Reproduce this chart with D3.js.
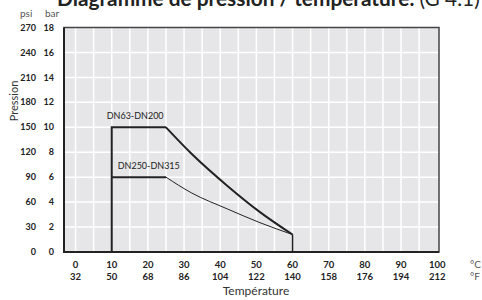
<!DOCTYPE html>
<html>
<head>
<meta charset="utf-8">
<script src="https://cdn.jsdelivr.net/npm/d3@7"></script>
<style>
  body{margin:0;background:#fff}
  svg{display:block}
  text{font-family:Lato,'Open Sans',sans-serif}
</style>
</head>
<body>
<div id="chart"></div>
<script>
// tick labels
var tempC = [0,10,20,30,40,50,60,70,80,90,100]
var tempF = [32,50,68,86,104,122,140,158,176,194,212]
var barTicks = [0,2,4,6,8,10,12,14,16,18]
var psiTicks = [0,30,60,90,120,150,180,210,240,270]

// DN63-DN200 curve (temperature C, pressure bar)
var upperT = [10,10,25,32,42,51,60,60]
var upperP = [0,10,10,7.9,5.3,3.2,1.4,0]
// DN250-DN315 curve
var lowerT = [10,25,32,42,51,60]
var lowerP = [6,6,4.75,3.45,2.35,1.4]

var wid = 482, hgt = 300
var vis = d3.select('#chart').append('svg:svg')
  .attr('width',wid).attr('height',hgt)

var x = d3.scaleLinear().domain([-3.2,100.5]).range([64,439])
var y = d3.scaleLinear().domain([0,18]).range([252,27.5])
var numFont = 'Liberation Sans, Arial, sans-serif'

//title, cut off at the top like the scan
var title = vis.append('text')
  .attr('x',57).attr('y',6)
  .style('font-size','20px').style('fill','#222')
title.append('tspan').style('font-weight','bold')
  .text('Diagramme de pression / température. ')
title.append('tspan').style('font-weight','normal')
  .text('(G 4.1)')
//squeeze it into 57..480
var tw = title.node().getComputedTextLength()
title.style('font-size',(20*423/tw)+'px')

//units over the y labels
vis.append('text').attr('x',20).attr('y',17)
  .style('font-size','10px').style('fill','#555').text('psi')
vis.append('text').attr('x',45).attr('y',17)
  .style('font-size','10px').style('fill','#555').text('bar')

//plot background
vis.append('rect')
  .attr('x',x.range()[0]).attr('y',y.range()[1])
  .attr('width',x.range()[1]-x.range()[0])
  .attr('height',y.range()[0]-y.range()[1])
  .style('fill','#e6e6e8')

//grid, every 5 degrees and every 2 bar
var grid = vis.append('g').attr('id','grid')
grid.selectAll('line.v').data(d3.range(0,100,5)).enter()
  .append('line').attr('class','v')
  .attr('x1',function(d){return x(d)}).attr('x2',function(d){return x(d)})
  .attr('y1',y(18)).attr('y2',y(0))
  .style('stroke','#fff').style('stroke-width',1.5)
grid.selectAll('line.h').data(barTicks.slice(1,-1)).enter()
  .append('line').attr('class','h')
  .attr('y1',function(d){return y(d)}).attr('y2',function(d){return y(d)})
  .attr('x1',x.range()[0]).attr('x2',x.range()[1])
  .style('stroke','#fff').style('stroke-width',1.5)

//frame
vis.append('rect')
  .attr('x',x.range()[0]).attr('y',y.range()[1])
  .attr('width',x.range()[1]-x.range()[0])
  .attr('height',y.range()[0]-y.range()[1])
  .style('fill','none').style('stroke','#444').style('stroke-width',1.5)
vis.append('path')
  .attr('d','M'+x.range()[0]+' '+y.range()[1]+'V'+y.range()[0]+'H'+x.range()[1])
  .style('fill','none').style('stroke','#222').style('stroke-width',2)

//y labels: psi and bar
var yl = vis.append('g').attr('id','y_ticks')
  .style('font-family',numFont)
  .style('font-size','9px').style('font-weight','bold').style('fill','#222')
yl.selectAll('text.psi').data(psiTicks).enter()
  .append('text').attr('class','psi')
  .attr('x',36).attr('y',function(d,i){return y(barTicks[i])})
  .attr('dy','.35em').attr('text-anchor','end')
  .text(function(d){return d})
yl.selectAll('text.bar').data(barTicks).enter()
  .append('text').attr('class','bar')
  .attr('x',54).attr('y',function(d){return y(d)})
  .attr('dy','.35em').attr('text-anchor','end')
  .text(function(d){return d})

vis.append('text')
  .attr('transform','translate(18,101) rotate(-90)')
  .attr('text-anchor','middle')
  .style('font-size','11px').style('fill','#333')
  .text('Pression')

//x labels: celsius and fahrenheit
var xl = vis.append('g').attr('id','x_ticks')
  .style('font-family',numFont)
  .style('font-size','9.5px').style('font-weight','bold').style('fill','#222')
  .attr('text-anchor','middle')
xl.selectAll('text.c').data(tempC).enter()
  .append('text').attr('class','c')
  .attr('x',function(d){return x(d)}).attr('y',268)
  .text(function(d){return d})
xl.selectAll('text.f').data(tempF).enter()
  .append('text').attr('class','f')
  .attr('x',function(d,i){return x(tempC[i])}).attr('y',280)
  .text(function(d){return d})
vis.append('text').attr('x',470).attr('y',268)
  .style('font-size','10px').style('fill','#555').text('°C')
vis.append('text').attr('x',470).attr('y',280)
  .style('font-size','10px').style('fill','#555').text('°F')

vis.append('text')
  .attr('x',256).attr('y',295).attr('text-anchor','middle')
  .style('font-size','12px').style('fill','#333')
  .text('Température')

//curves
var up = upperT.map(function(t,i){return [t,upperP[i]]})
var lo = lowerT.map(function(t,i){return [t,lowerP[i]]})
var straight = d3.line().x(function(d){return x(d[0])}).y(function(d){return y(d[1])})
var smooth = d3.line().x(function(d){return x(d[0])}).y(function(d){return y(d[1])})
  .curve(d3.curveMonotoneX)

var curves = vis.append('g').attr('id','curves')
  .style('fill','none').style('stroke','#222')
curves.append('path').attr('d',straight(up.slice(0,3)))
  .style('stroke-width',2)
curves.append('path').attr('d',smooth(up.slice(2,7)))
  .style('stroke-width',2)
curves.append('path').attr('d',straight(up.slice(6)))
  .style('stroke-width',1.5)
curves.append('path').attr('d',straight(lo.slice(0,2)))
  .style('stroke-width',2)
curves.append('path').attr('d',smooth(lo.slice(1)))
  .style('stroke-width',1)

var lab = vis.append('g').attr('id','curve_labels')
  .style('font-family',numFont)
  .style('font-size','9px').style('fill','#222')
lab.append('text').attr('x',x(upperT[1])-5).attr('y',y(upperP[1])-8)
  .text('DN63-DN200')
lab.append('text').attr('x',x(lowerT[0])+6).attr('y',y(lowerP[0])-8)
  .text('DN250-DN315')
</script>
</body>
</html>
